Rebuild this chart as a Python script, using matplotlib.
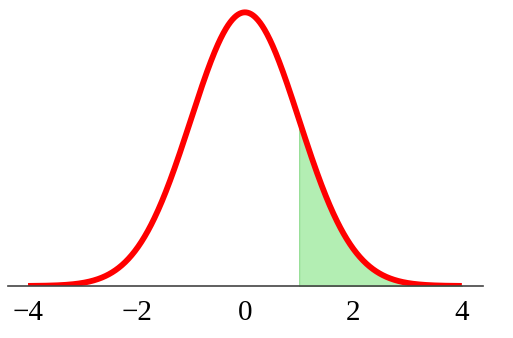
import numpy as np
import matplotlib.pyplot as plt

# standard normal density, shaded tail from x = 1
mu = 0.0
sigma = 1.0
x_min, x_max = -4.0, 4.0
shade_from = 1.0
tick_values = [-4, -2, 0, 2, 4]
tick_labels = ['\u22124', '\u22122', '0', '2', '4']

x = np.linspace(x_min, x_max, 801)
y = np.exp(-0.5 * ((x - mu) / sigma) ** 2) / (sigma * np.sqrt(2 * np.pi))

plt.rcParams['font.family'] = ['Liberation Serif', 'DejaVu Serif']

fig = plt.figure(figsize=(5.13, 3.38), dpi=100)
ax = fig.add_axes([8 / 513, 52 / 338, 475 / 513, 284 / 338])

mask = x >= shade_from
ax.fill_between(x[mask], 0, y[mask], color='#b3eeb3', edgecolor='#8fdc8f', linewidth=0.8)
ax.plot(x, y, color='red', linewidth=4.2, solid_capstyle='butt')

ax.set_xlim(-4.37, 4.39)
ax.set_ylim(0, 0.414)
ax.set_xticks(tick_values)
ax.set_xticklabels(tick_labels, fontsize=21, family='Liberation Serif')
ax.tick_params(axis='x', length=0, pad=10)
ax.set_yticks([])
for s in ['top', 'left', 'right']:
    ax.spines[s].set_visible(False)
ax.spines['bottom'].set_color('#444444')
ax.spines['bottom'].set_linewidth(1.2)
ax.spines['bottom'].set_zorder(3)

fig.savefig('out.png', dpi=100)
